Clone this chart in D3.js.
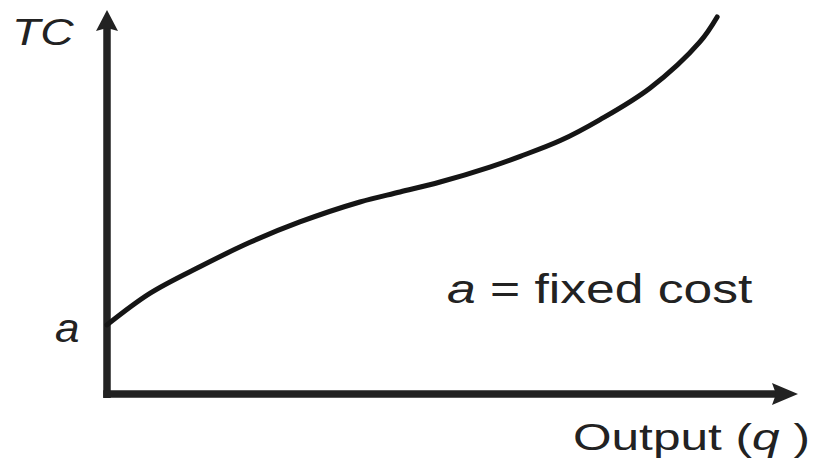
<!DOCTYPE html>
<html>
<head>
<meta charset="utf-8">
<script src="https://cdn.jsdelivr.net/npm/d3@7"></script>
<style>
	body { margin: 0; background: #fff; }
	svg { display: block; }
	text { font-family: "Liberation Sans", Arial, sans-serif; fill: #222; }
</style>
</head>
<body>
<div id="chart"></div>
<script>
// Total cost curve (arbitrary units, 0-100)
const output = [0, 6.2, 13.5, 20.7, 27.9, 36.6, 42.4, 48.2, 55.4, 59.8, 65.6, 71.3, 78.6, 85.8, 88.3]
const totalCost = [18.0, 26.2, 33.2, 39.5, 44.8, 50.0, 52.6, 55.2, 59.1, 61.9, 66.0, 71.4, 79.7, 91.7, 98.2]
const fixedCost = totalCost[0]

const width = 819
const height = 461
const ink = "#222"

const svg = d3.select("#chart")
	.append("svg")
	.attr("width", width)
	.attr("height", height)

const x = d3.scaleLinear().domain([0, 100]).range([107, 798])
const y = d3.scaleLinear().domain([0, 100]).range([394, 10])

// Axes with arrow heads
const x0 = x(0), y0 = y(0)
const xEnd = x.range()[1], yEnd = y.range()[1]

svg.append("line")
	.attr("x1", x0).attr("x2", x0)
	.attr("y1", y0 + 4).attr("y2", yEnd + 18)
	.attr("stroke", ink).attr("stroke-width", 7.5)

svg.append("line")
	.attr("x1", x0 - 3.75).attr("x2", xEnd - 22)
	.attr("y1", y0).attr("y2", y0)
	.attr("stroke", ink).attr("stroke-width", 7.5)

svg.append("path")
	.attr("d", `M${x0},${yEnd} L${x0 + 11},${yEnd + 21} L${x0},${yEnd + 18} L${x0 - 11},${yEnd + 21} Z`)
	.attr("fill", ink)

svg.append("path")
	.attr("d", `M${xEnd},${y0} L${xEnd - 26},${y0 + 11} L${xEnd - 22},${y0} L${xEnd - 26},${y0 - 11} Z`)
	.attr("fill", ink)

// TC curve
const line = d3.line()
	.x((d, i) => x(output[i]))
	.y((d) => y(d))
	.curve(d3.curveCatmullRom.alpha(0.5))

svg.append("path")
	.datum(totalCost)
	.attr("fill", "none")
	.attr("stroke", "#151515")
	.attr("stroke-width", 5)
	.attr("stroke-linecap", "round")
	.attr("d", line)

// Labels (the reference text is stretched horizontally)
function label(px, py, sx, size, parts) {
	const t = svg.append("text")
		.attr("transform", `translate(${px},${py}) scale(${sx},1)`)
		.style("font-size", size + "px")
	parts.forEach(([s, italic]) => {
		t.append("tspan")
			.style("font-style", italic ? "italic" : "normal")
			.text(s)
	})
	return t
}

label(12, 45, 1.25, 37, [["TC", true]])
label(55, y(fixedCost) + 17, 1.1, 40, [["a", true]])
label(447, 303, 1.29, 40, [["a", true], [" = fixed cost", false]])
label(573, 450, 1.34, 37, [["Output (", false], ["q", true], [" )", false]])
</script>
</body>
</html>
